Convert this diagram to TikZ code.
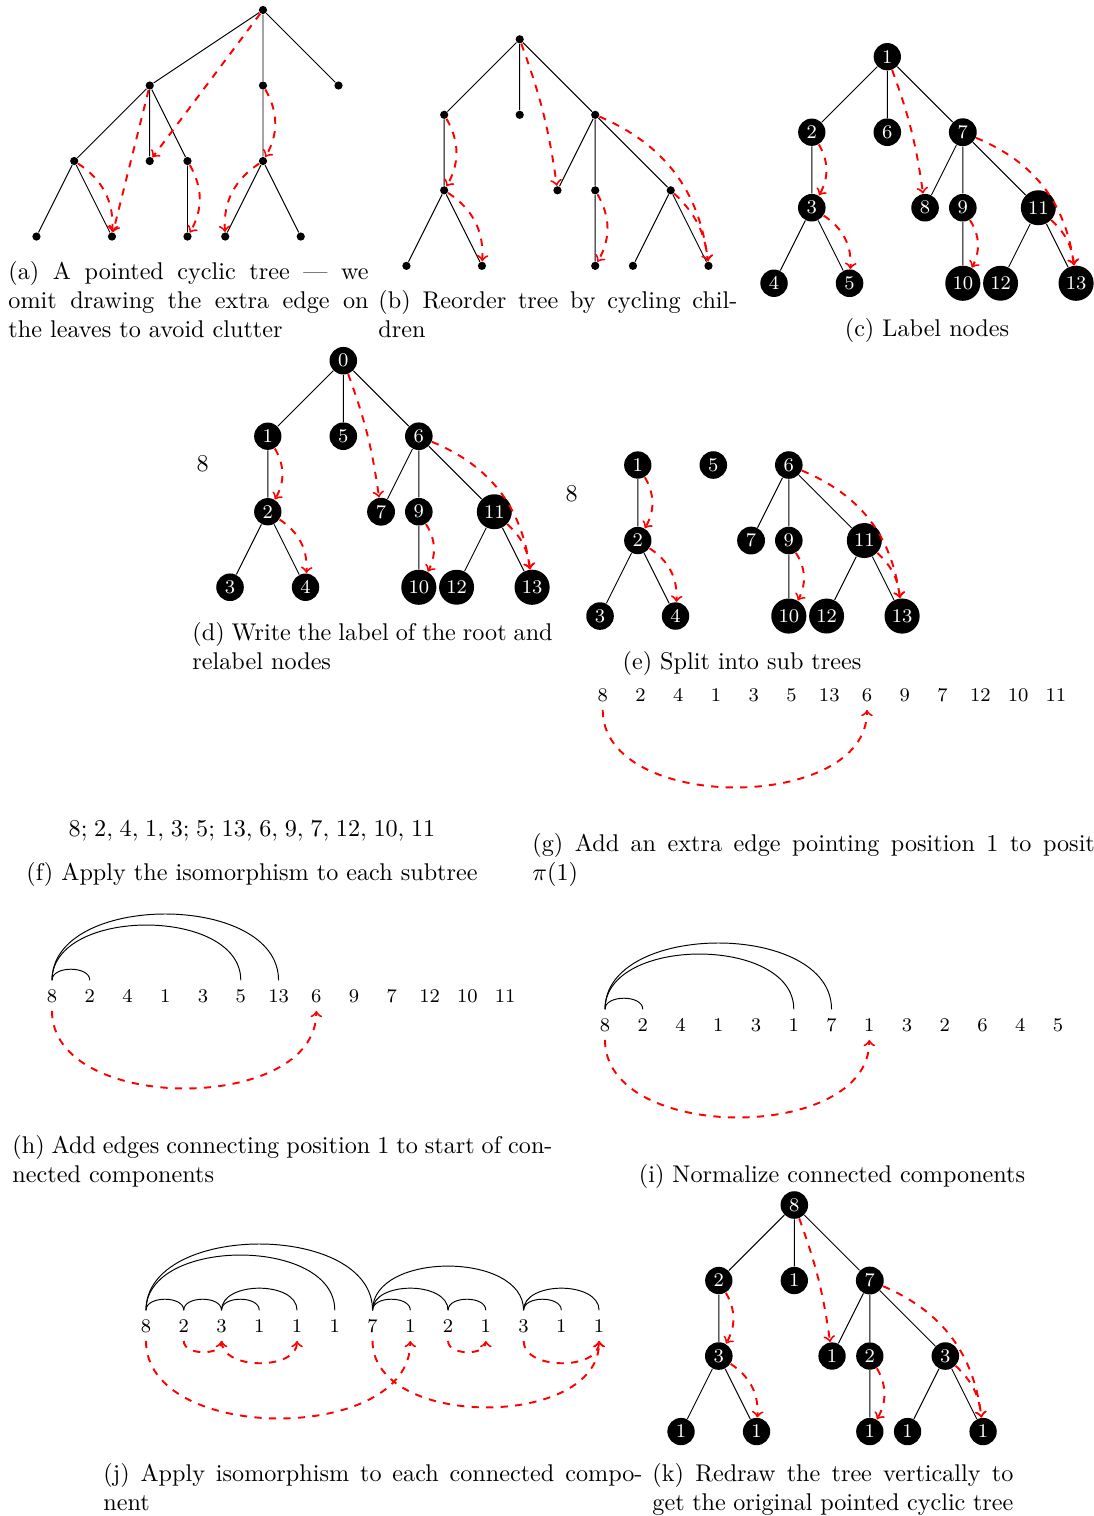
\documentclass[tikz,border=0pt]{standalone}
\tikzset{
  vtx/.style={circle,fill=black,inner sep=0pt,minimum size=3.4pt},
  lbl/.style={circle,fill=black,text=white,inner sep=1.6pt,font=\footnotesize},
  num/.style={font=\footnotesize,inner sep=3.5pt,text height=5.3pt,text depth=0pt,anchor=base},
  ptr/.style={->,red,dashed,thick},
  capt/.style={inner sep=0pt,anchor=base west,align=justify},
  ctext/.style={inner sep=0pt,anchor=base},
}
\begin{document}
\begin{tikzpicture}[x=0.4137pt,y=0.4137pt]
	\useasboundingbox (0,0) rectangle (1094,-1516);
	% (a) pointed cyclic tree
	\begin{scope}[shift={(263,-10)},x=15.62pt,y=15.62pt]
	\node[vtx] (a) at (0,0) {};
	\node[vtx] (a1) at (-3,-2) {};
	\node[vtx] (a2) at (0,-2) {};
	\node[vtx] (a3) at (2,-2) {};
	\node[vtx] (a11) at (-5,-4) {};
	\node[vtx] (a12) at (-3,-4) {};
	\node[vtx] (a13) at (-2,-4) {};
	\node[vtx] (a21) at (0,-4) {};
	\node[vtx] (a111) at (-6,-6) {};
	\node[vtx] (a112) at (-4,-6) {};
	\node[vtx] (a131) at (-2,-6) {};
	\node[vtx] (a211) at (-1,-6) {};
	\node[vtx] (a212) at (1,-6) {};
	\draw (a) -- (a1) (a) -- (a2) (a) -- (a3) (a1) -- (a11) (a1) -- (a12) (a1) -- (a13)
	      (a11) -- (a111) (a11) -- (a112) (a13) -- (a131) (a2) -- (a21) (a21) -- (a211) (a21) -- (a212);
	\draw[ptr] (a) to (a12);
	\draw[ptr] (a1) to (a112);
	\draw[ptr] (a11) to[bend left=30] (a112);
	\draw[ptr] (a13) to[bend left=30] (a131);
	\draw[ptr] (a2) to[bend left=30] (a21);
	\draw[ptr] (a21) to[bend right=30] (a211);
	\end{scope}
	\node[capt,text width=149pt] (capa) at (8,-279) {(a) A pointed cyclic tree --- we\linebreak omit drawing the extra edge on\linebreak the leaves to avoid clutter};
	% (b) reordered
	\begin{scope}[shift={(519.7,-39.3)},x=15.62pt,y=15.62pt]
	\node[vtx] (b) at (0,0) {};
	\node[vtx] (b1) at (-2,-2) {};
	\node[vtx] (b2) at (0,-2) {};
	\node[vtx] (b3) at (2,-2) {};
	\node[vtx] (b11) at (-2,-4) {};
	\node[vtx] (b31) at (1,-4) {};
	\node[vtx] (b32) at (2,-4) {};
	\node[vtx] (b33) at (4,-4) {};
	\node[vtx] (b111) at (-3,-6) {};
	\node[vtx] (b112) at (-1,-6) {};
	\node[vtx] (b321) at (2,-6) {};
	\node[vtx] (b331) at (3,-6) {};
	\node[vtx] (b332) at (5,-6) {};
	\draw (b) -- (b1) (b) -- (b2) (b) -- (b3) (b1) -- (b11) (b11) -- (b111) (b11) -- (b112)
	      (b3) -- (b31) (b3) -- (b32) (b3) -- (b33) (b32) -- (b321) (b33) -- (b331) (b33) -- (b332);
	\draw[ptr] (b) to[bend left=6] (b31);
	\draw[ptr] (b1) to[bend left=30] (b11);
	\draw[ptr] (b11) to[bend left=30] (b112);
	\draw[ptr] (b3) to[bend left=30] (b332);
	\draw[ptr] (b32) to[bend left=30] (b321);
	\draw[ptr] (b33) to[bend left=20] (b332);
	\end{scope}
	\node[capt,text width=148.5pt] (capb) at (378,-308) {(b) Reorder tree by cycling chil-\linebreak dren};
	% (c) labels
	\begin{scope}[shift={(887.3,-56.7)},x=15.62pt,y=15.62pt]
	\node[lbl] (c) at (0,0) {1};
	\node[lbl] (c1) at (-2,-2) {2};
	\node[lbl] (c2) at (0,-2) {6};
	\node[lbl] (c3) at (2,-2) {7};
	\node[lbl] (c11) at (-2,-4) {3};
	\node[lbl] (c31) at (1,-4) {8};
	\node[lbl] (c32) at (2,-4) {9};
	\node[lbl] (c33) at (4,-4) {11};
	\node[lbl] (c111) at (-3,-6) {4};
	\node[lbl] (c112) at (-1,-6) {5};
	\node[lbl] (c321) at (2,-6) {10};
	\node[lbl] (c331) at (3,-6) {12};
	\node[lbl] (c332) at (5,-6) {13};
	\draw (c) -- (c1) (c) -- (c2) (c) -- (c3) (c1) -- (c11) (c11) -- (c111) (c11) -- (c112)
	      (c3) -- (c31) (c3) -- (c32) (c3) -- (c33) (c32) -- (c321) (c33) -- (c331) (c33) -- (c332);
	\draw[ptr] (c) to[bend left=6] (c31);
	\draw[ptr] (c1) to[bend left=30] (c11);
	\draw[ptr] (c11) to[bend left=30] (c112);
	\draw[ptr] (c3) to[bend left=30] (c332);
	\draw[ptr] (c32) to[bend left=30] (c321);
	\draw[ptr] (c33) to[bend left=20] (c332);
	\end{scope}
	\node[ctext] (capc) at (927,-336) {(c) Label nodes};
	% (d) root label written, relabel
	\node[ctext] (d8) at (202.7,-471) {8};
	\begin{scope}[shift={(343.3,-360.7)},x=15.62pt,y=15.62pt]
	\node[lbl] (d) at (0,0) {0};
	\node[lbl] (d1) at (-2,-2) {1};
	\node[lbl] (d2) at (0,-2) {5};
	\node[lbl] (d3) at (2,-2) {6};
	\node[lbl] (d11) at (-2,-4) {2};
	\node[lbl] (d31) at (1,-4) {7};
	\node[lbl] (d32) at (2,-4) {9};
	\node[lbl] (d33) at (4,-4) {11};
	\node[lbl] (d111) at (-3,-6) {3};
	\node[lbl] (d112) at (-1,-6) {4};
	\node[lbl] (d321) at (2,-6) {10};
	\node[lbl] (d331) at (3,-6) {12};
	\node[lbl] (d332) at (5,-6) {13};
	\draw (d) -- (d1) (d) -- (d2) (d) -- (d3) (d1) -- (d11) (d11) -- (d111) (d11) -- (d112)
	      (d3) -- (d31) (d3) -- (d32) (d3) -- (d33) (d32) -- (d321) (d33) -- (d331) (d33) -- (d332);
	\draw[ptr] (d) to[bend left=6] (d31);
	\draw[ptr] (d1) to[bend left=30] (d11);
	\draw[ptr] (d11) to[bend left=30] (d112);
	\draw[ptr] (d3) to[bend left=30] (d332);
	\draw[ptr] (d32) to[bend left=30] (d321);
	\draw[ptr] (d33) to[bend left=20] (d332);
	\end{scope}
	\node[capt,text width=149pt] (capd) at (192,-640) {(d) Write the label of the root and\linebreak relabel nodes};
	% (e) sub trees
	\node[ctext] (e8) at (571.7,-501.7) {8};
	\begin{scope}[shift={(713.3,-389.5)},x=15.62pt,y=15.62pt]
	\node[lbl] (e1) at (-2,-2) {1};
	\node[lbl] (e2) at (0,-2) {5};
	\node[lbl] (e3) at (2,-2) {6};
	\node[lbl] (e11) at (-2,-4) {2};
	\node[lbl] (e31) at (1,-4) {7};
	\node[lbl] (e32) at (2,-4) {9};
	\node[lbl] (e33) at (4,-4) {11};
	\node[lbl] (e111) at (-3,-6) {3};
	\node[lbl] (e112) at (-1,-6) {4};
	\node[lbl] (e321) at (2,-6) {10};
	\node[lbl] (e331) at (3,-6) {12};
	\node[lbl] (e332) at (5,-6) {13};
	\draw (e1) -- (e11) (e11) -- (e111) (e11) -- (e112)
	      (e3) -- (e31) (e3) -- (e32) (e3) -- (e33) (e32) -- (e321) (e33) -- (e331) (e33) -- (e332);
	\draw[ptr] (e1) to[bend left=30] (e11);
	\draw[ptr] (e11) to[bend left=30] (e112);
	\draw[ptr] (e3) to[bend left=30] (e332);
	\draw[ptr] (e32) to[bend left=30] (e321);
	\draw[ptr] (e33) to[bend left=20] (e332);
	\end{scope}
	\node[ctext] (cape) at (742,-669) {(e) Split into sub trees};
	% (f) isomorphism
	\node[ctext] (fseq) at (252,-836) {\thinmuskip=5mu $8; 2, 4, 1, 3; 5; 13, 6, 9, 7, 12, 10, 11$};
	\node[ctext] (capf) at (252,-880) {(f) Apply the isomorphism to each subtree};
	% (g) extra edge
	\begin{scope}[shift={(602.7,-701)},x=15.62pt]
	\foreach \v [count=\i] in {8,2,4,1,3,5,13,6,9,7,12,10,11}
		\node[num] (g\i) at ({\i-1},0) {\v};
	\end{scope}
	\draw[ptr] (g1.south) to[out=-90,in=-90] (g8.south);
	\node[capt,text width=246pt] (capg) at (532,-851) {(g) Add an extra edge pointing position 1 to position\linebreak $\pi(1)$};
	% (h) connecting edges
	\begin{scope}[shift={(52,-1002)},x=15.62pt]
	\foreach \v [count=\i] in {8,2,4,1,3,5,13,6,9,7,12,10,11}
		\node[num] (h\i) at ({\i-1},0) {\v};
	\end{scope}
	\draw (h1.north) to[out=90,in=90] (h2.north);
	\draw (h1.north) to[out=90,in=90] (h6.north);
	\draw (h1.north) to[out=90,in=90] (h7.north);
	\draw[ptr] (h1.south) to[out=-90,in=-90] (h8.south);
	\node[capt,text width=223.4pt] (caph) at (12,-1153) {(h) Add edges connecting position 1 to start of con-\linebreak nected components};
	% (i) normalized
	\begin{scope}[shift={(605,-1031)},x=15.62pt]
	\foreach \v [count=\i] in {8,2,4,1,3,1,7,1,3,2,6,4,5}
		\node[num] (i\i) at ({\i-1},0) {\v};
	\end{scope}
	\draw (i1.north) to[out=90,in=90] (i2.north);
	\draw (i1.north) to[out=90,in=90] (i6.north);
	\draw (i1.north) to[out=90,in=90] (i7.north);
	\draw[ptr] (i1.south) to[out=-90,in=-90] (i8.south);
	\node[ctext] (capi) at (832,-1182) {(i) Normalize connected components};
	% (j) each component
	\begin{scope}[shift={(146,-1332)},x=15.62pt]
	\foreach \v [count=\i] in {8,2,3,1,1,1,7,1,2,1,3,1,1}
		\node[num] (j\i) at ({\i-1},0) {\v};
	\end{scope}
	\draw (j1.north) to[out=90,in=90] (j2.north);
	\draw (j1.north) to[out=90,in=90] (j6.north);
	\draw (j1.north) to[out=90,in=90] (j7.north);
	\draw (j2.north) to[out=90,in=90] (j3.north);
	\draw (j3.north) to[out=90,in=90] (j4.north);
	\draw (j3.north) to[out=90,in=90] (j5.north);
	\draw (j7.north) to[out=90,in=90] (j8.north);
	\draw (j7.north) to[out=90,in=90] (j9.north);
	\draw (j7.north) to[out=90,in=90] (j11.north);
	\draw (j9.north) to[out=90,in=90] (j10.north);
	\draw (j11.north) to[out=90,in=90] (j12.north);
	\draw (j11.north) to[out=90,in=90] (j13.north);
	\draw[ptr] (j2.south) to[out=-90,in=-90] (j3.south);
	\draw[ptr] (j3.south) to[out=-90,in=-90] (j5.south);
	\draw[ptr] (j1.south) to[out=-90,in=-90] (j8.south);
	\draw[ptr] (j7.south) to[out=-90,in=-90] (j13.south);
	\draw[ptr] (j9.south) to[out=-90,in=-90] (j10.south);
	\draw[ptr] (j11.south) to[out=-90,in=-90] (j13.south);
	\node[capt,text width=223pt] (capj) at (103,-1481) {(j) Apply isomorphism to each connected compo-\linebreak nent};
	% (k) redrawn tree
	\begin{scope}[shift={(794.3,-1205)},x=15.62pt,y=15.62pt]
	\node[lbl] (k) at (0,0) {8};
	\node[lbl] (k1) at (-2,-2) {2};
	\node[lbl] (k2) at (0,-2) {1};
	\node[lbl] (k3) at (2,-2) {7};
	\node[lbl] (k11) at (-2,-4) {3};
	\node[lbl] (k31) at (1,-4) {1};
	\node[lbl] (k32) at (2,-4) {2};
	\node[lbl] (k33) at (4,-4) {3};
	\node[lbl] (k111) at (-3,-6) {1};
	\node[lbl] (k112) at (-1,-6) {1};
	\node[lbl] (k321) at (2,-6) {1};
	\node[lbl] (k331) at (3,-6) {1};
	\node[lbl] (k332) at (5,-6) {1};
	\draw (k) -- (k1) (k) -- (k2) (k) -- (k3) (k1) -- (k11) (k11) -- (k111) (k11) -- (k112)
	      (k3) -- (k31) (k3) -- (k32) (k3) -- (k33) (k32) -- (k321) (k33) -- (k331) (k33) -- (k332);
	\draw[ptr] (k) to[bend left=6] (k31);
	\draw[ptr] (k1) to[bend left=30] (k11);
	\draw[ptr] (k11) to[bend left=30] (k112);
	\draw[ptr] (k3) to[bend left=30] (k332);
	\draw[ptr] (k32) to[bend left=30] (k321);
	\draw[ptr] (k33) to[bend left=20] (k332);
	\end{scope}
	\node[capt,text width=149.3pt] (capk) at (652,-1481) {(k) Redraw the tree vertically to\linebreak get the original pointed cyclic tree};
\end{tikzpicture}
\end{document}
